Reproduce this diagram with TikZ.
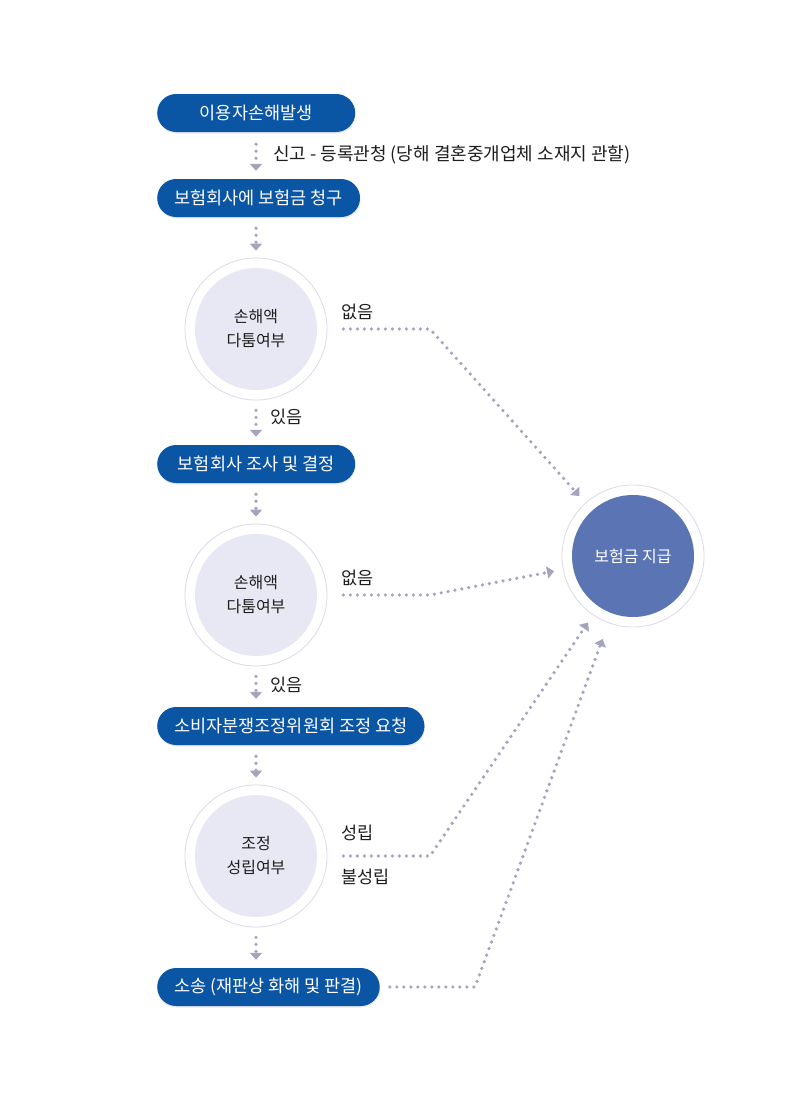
\documentclass[tikz,border=0pt]{standalone}
\usepackage{fontspec}
\setmainfont{Noto Sans CJK KR}
\usetikzlibrary{arrows.meta,shadows}

\definecolor{pillblue}{RGB}{11,85,165}
\definecolor{ringline}{RGB}{218,218,232}
\definecolor{disclav}{RGB}{232,232,245}
\definecolor{paydisc}{RGB}{91,116,180}
\definecolor{dotgray}{RGB}{164,164,188}
\definecolor{inktext}{RGB}{30,30,30}

\begin{document}
\begin{tikzpicture}[x=1pt,y=-1pt,
   pill/.style={rectangle, rounded corners=19pt, fill=pillblue, text=white, anchor=west,
      minimum width=198pt, minimum height=38pt, inner xsep=17pt, inner ysep=0pt,
      font=\fontsize{17.5}{20}\selectfont,
      drop shadow={opacity=0.18, shadow xshift=0.5pt, shadow yshift=-1.5pt}},
   ring/.style={circle, draw=ringline, line width=0.8pt, fill=white,
      minimum size=142pt, inner sep=0pt},
   disc/.style={circle, fill=disclav, minimum size=122pt, inner sep=0pt,
      align=center, text=inktext, font=\fontsize{16}{24}\selectfont},
   dots/.style={draw=dotgray, line width=3.6pt, line cap=round,
      dash pattern=on 0pt off 7pt},
   tip/.style={-{Triangle[width=12pt,length=7pt,fill=dotgray]}},
   lbl/.style={text=inktext, anchor=west, inner sep=0pt, font=\fontsize{17.5}{20}\selectfont}]

   \fill[white] (0,0) rectangle (800,1100);
   \useasboundingbox (0,0) rectangle (800,1100);

   %% Schritte
   \node[pill] (p1) at (157,113) {이용자손해발생};
   \node[pill] (p2) at (157,198) {보험회사에 보험금 청구};
   \node[pill] (p3) at (157,464) {보험회사 조사 및 결정};
   \node[pill] (p4) at (157,726) {소비자분쟁조정위원회 조정 요청};
   \node[pill] (p5) at (157,987) {소송 (재판상 화해 및 판결)};

   %% Entscheidungen
   \node[ring] (r1) at (256,329) {};
   \node[disc] (d1) at (r1) {손해액\\다툼여부};
   \node[ring] (r2) at (256,595) {};
   \node[disc] (d2) at (r2) {손해액\\다툼여부};
   \node[ring] (r3) at (256,856) {};
   \node[disc] (d3) at (r3) {조정\\성립여부};

   \node[ring] (pay) at (633,556) {};
   \node[disc, fill=paydisc, text=white] (payin) at (pay) {보험금 지급};

   %% Pfeile nach unten
   \draw[dots,tip,shorten <=12pt,shorten >=8pt] (p1.south -| r1) -- (p2.north -| r1);
   \draw[dots,tip,shorten <=11pt,shorten >=7pt] (p2.south -| r1) -- (r1.north);
   \draw[dots,tip,shorten <=10pt,shorten >=8pt] (r1.south) -- (p3.north -| r1);
   \draw[dots,tip,shorten <=11pt,shorten >=7pt] (p3.south -| r2) -- (r2.north);
   \draw[dots,tip,shorten <=10pt,shorten >=8pt] (r2.south) -- (p4.north -| r2);
   \draw[dots,tip,shorten <=11pt,shorten >=7pt] (p4.south -| r3) -- (r3.north);
   \draw[dots,tip,shorten <=10pt,shorten >=8pt] (r3.south) -- (p5.north -| r3);

   \node[lbl, font=\fontsize{18}{20}\selectfont] (l0) at (273,155) {신고 - 등록관청 (당해 결혼중개업체 소재지 관할)};
   \node[lbl] (l1) at (270,417) {있음};
   \node[lbl] (l2) at (270,685) {있음};

   %% Pfeile zur Zahlung
   \coordinate (e1) at (430,329);
   \coordinate (e2) at (430,595);
   \coordinate (e3) at (430,856);
   \coordinate (e4) at (475,987);

   \draw[dots,tip,shorten <=16pt,shorten >=9pt] (r1.east) -- (e1) -- (pay);
   \draw[dots,tip,shorten <=16pt,shorten >=9pt] (r2.east) -- (e2) -- (pay);
   \draw[dots,tip,shorten <=16pt,shorten >=9pt] (r3.east) -- (e3) -- (pay);
   \draw[dots,tip,shorten <=10pt,shorten >=17pt] (p5.east) -- (e4) -- (pay);

   \node[lbl] (n1) at (341,312) {없음};
   \node[lbl] (n2) at (341,578) {없음};
   \node[lbl] (n3) at (341,833) {성립};
   \node[lbl] (n4) at (341,877) {불성립};
  \end{tikzpicture}
\end{document}
